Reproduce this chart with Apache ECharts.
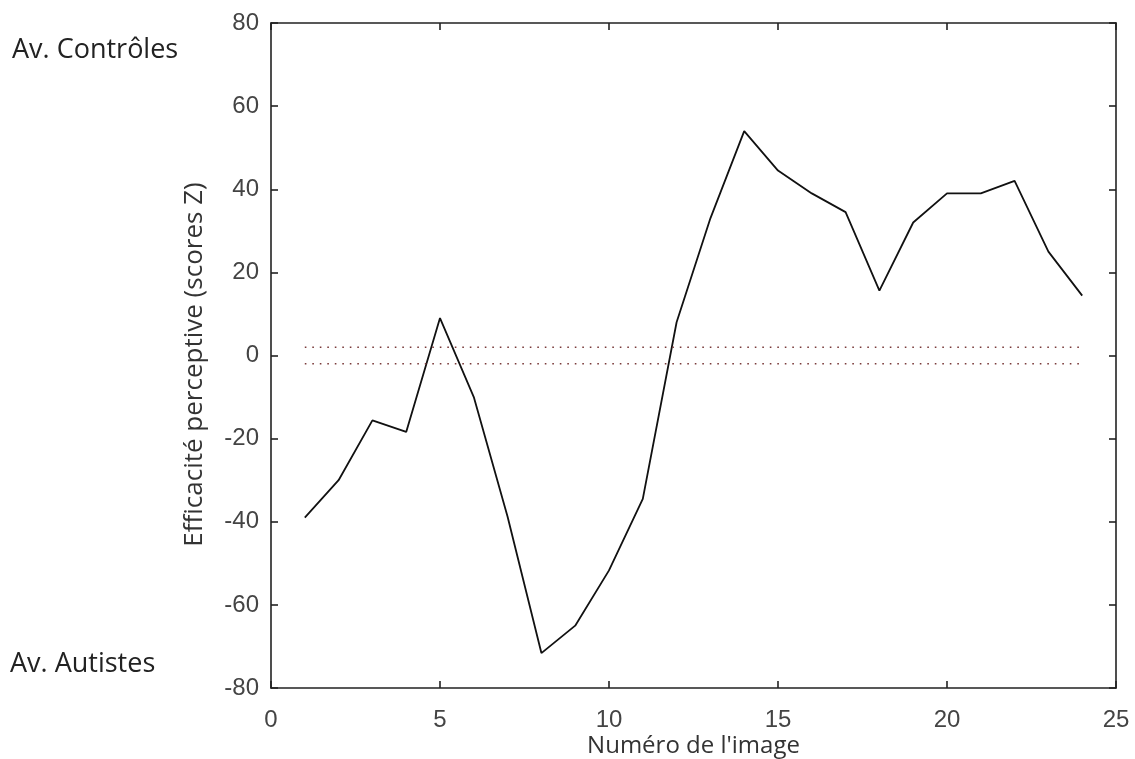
<!DOCTYPE html>
<html>
<head>
<meta charset="utf-8">
<script src="https://cdn.jsdelivr.net/npm/echarts@6/dist/echarts.min.js"></script>
<style>
  html, body { margin: 0; padding: 0; background: #fff; }
  #main { width: 1135px; height: 759px; }
</style>
</head>
<body>
<div id="main"></div>
<script>
// image number and perceptual efficiency (Z scores)
const imageNumbers = [1, 2, 3, 4, 5, 6, 7, 8, 9, 10, 11, 12, 13, 14, 15, 16, 17, 18, 19, 20, 21, 22, 23, 24];
const scores = [-39, -30, -15.6, -18.4, 9, -10, -38.8, -71.6, -65, -51.7, -34.5, 8, 33, 54, 44.5, 39, 34.5, 15.6, 32, 39, 39, 42, 25, 14.4];
// threshold band drawn as two dotted lines
const thresholdX = [1, 24];
const upperThreshold = 2;
const lowerThreshold = -2;

const labelFont = { fontFamily: "Liberation Sans", fontSize: 24, color: "#444" };

let myChart = echarts.init(document.getElementById("main"));

const axisBase = {
  type: "value",
  axisLine: { show: true, onZero: false, lineStyle: { color: "#222", width: 1.6 } },
  axisTick: { show: true, inside: true, length: 7, lineStyle: { color: "#222", width: 1.6 } },
  splitLine: { show: false },
};

myChart.setOption({
  animation: false,
  grid: { left: 271, top: 23, width: 845, height: 665, outerBoundsMode: "none", containLabel: false },
  xAxis: [
    {
      ...axisBase,
      position: "bottom",
      min: 0, max: 25, interval: 5,
      axisLabel: { ...labelFont, margin: 20 },
      name: "Numéro de l'image",
      nameLocation: "middle",
      nameGap: 46,
      nameMoveOverlap: false,
      nameTextStyle: { fontFamily: "Open Sans", fontSize: 24, color: "#333" },
    },
    {
      ...axisBase,
      position: "top",
      min: 0, max: 25, interval: 5,
      axisLabel: { show: false },
    },
  ],
  yAxis: [
    {
      ...axisBase,
      position: "left",
      min: -80, max: 80, interval: 20,
      axisLabel: { ...labelFont, margin: 12 },
      name: "Efficacité perceptive (scores Z)",
      nameLocation: "middle",
      nameGap: 63,
      nameMoveOverlap: false,
      nameTextStyle: { fontFamily: "Open Sans", fontSize: 26, color: "#333", padding: [0, 18, 0, 0] },
    },
    {
      ...axisBase,
      position: "right",
      min: -80, max: 80, interval: 20,
      axisLabel: { show: false },
    },
  ],
  graphic: [
    {
      type: "text", left: 12, top: 37,
      style: { text: "Av. Contrôles", fontFamily: "Open Sans", fontSize: 27, fill: "#222" },
    },
    {
      type: "text", left: 10, top: 651,
      style: { text: "Av. Autistes", fontFamily: "Open Sans", fontSize: 27, fill: "#222" },
    },
  ],
  series: [
    {
      type: "line",
      data: imageNumbers.map((x, i) => [x, scores[i]]),
      symbol: "none",
      lineStyle: { color: "#111", width: 1.8 },
      z: 3,
    },
    {
      type: "line",
      data: thresholdX.map((x) => [x, upperThreshold]),
      symbol: "none",
      lineStyle: { color: "#7a3a3a", width: 1.6, type: [1.6, 5.9] },
    },
    {
      type: "line",
      data: thresholdX.map((x) => [x, lowerThreshold]),
      symbol: "none",
      lineStyle: { color: "#7a3a3a", width: 1.6, type: [1.6, 5.9] },
    },
  ],
});
</script>
</body>
</html>
